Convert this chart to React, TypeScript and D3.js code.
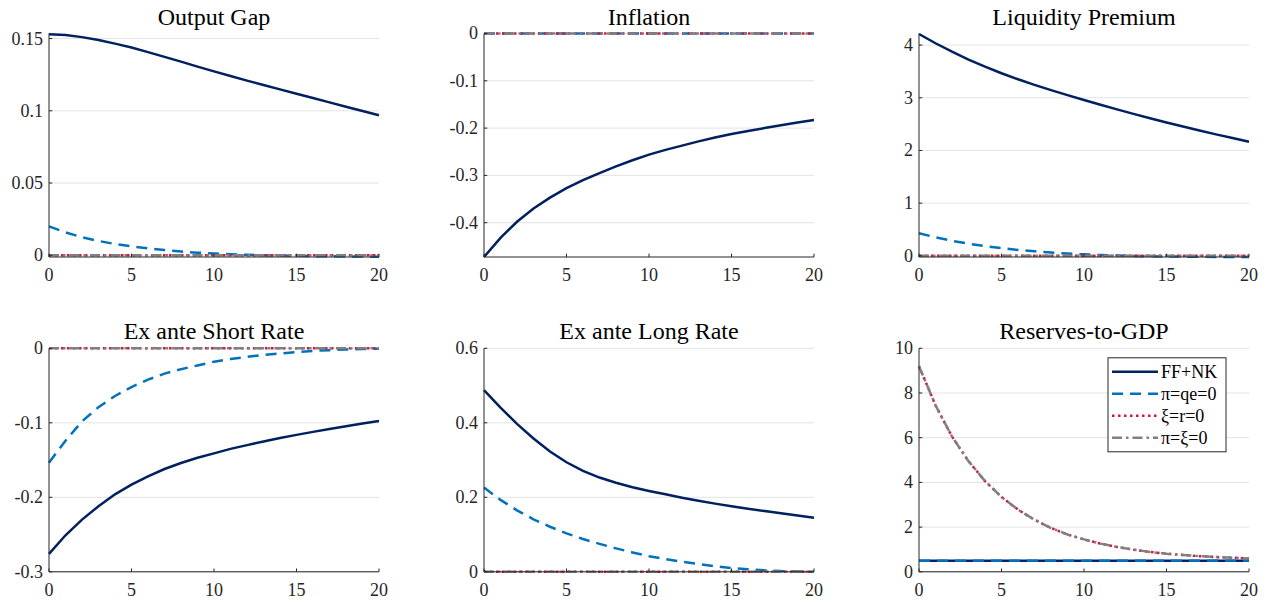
import React from 'react';
import * as d3 from 'd3';

const horizon = [0, 1, 2, 3, 4, 5, 6, 7, 8, 9, 10, 11, 12, 13, 14, 15, 16, 17, 18, 19, 20];

const seriesNames = ['FF+NK', 'π=qe=0', 'ξ=r=0', 'π=ξ=0'];
const zeros = horizon.map(() => 0);

// Output Gap
const outputGapFF = [0.153, 0.1525, 0.151, 0.149, 0.1465, 0.1438, 0.1406, 0.1373, 0.134, 0.1306, 0.1273, 0.1241, 0.1209, 0.1178, 0.1148, 0.1118, 0.1088, 0.1058, 0.1028, 0.0998, 0.0969];
const outputGapPiQe = [0.02, 0.0158, 0.0125, 0.0099, 0.0078, 0.0062, 0.0048, 0.0036, 0.0026, 0.0018, 0.0012, 0.0007, 0.0003, 0.0, -0.0002, -0.0004, -0.0006, -0.0007, -0.0008, -0.0009, -0.001];

// Inflation
const inflationFF = [-0.4725, -0.432, -0.398, -0.37, -0.347, -0.327, -0.31, -0.295, -0.281, -0.268, -0.256, -0.246, -0.237, -0.228, -0.22, -0.2125, -0.206, -0.2, -0.194, -0.188, -0.183];

// Liquidity Premium
const liquidityFF = [4.21, 4.035, 3.875, 3.725, 3.59, 3.465, 3.352, 3.246, 3.145, 3.05, 2.957, 2.867, 2.78, 2.695, 2.612, 2.532, 2.455, 2.38, 2.306, 2.235, 2.165];
const liquidityPiQe = [0.43, 0.35, 0.285, 0.23, 0.185, 0.146, 0.113, 0.085, 0.062, 0.043, 0.028, 0.016, 0.006, -0.002, -0.008, -0.012, -0.015, -0.018, -0.02, -0.021, -0.022];

// Ex ante Short Rate
const shortRateFF = [-0.276, -0.251, -0.23, -0.212, -0.196, -0.183, -0.172, -0.162, -0.154, -0.147, -0.141, -0.135, -0.13, -0.125, -0.1205, -0.1162, -0.1122, -0.1083, -0.1045, -0.101, -0.0975];
const shortRatePiQe = [-0.1535, -0.124, -0.098, -0.079, -0.064, -0.052, -0.042, -0.034, -0.028, -0.023, -0.018, -0.0145, -0.0115, -0.009, -0.007, -0.005, -0.0035, -0.0025, -0.0015, -0.001, -0.0005];

// Ex ante Long Rate
const longRateFF = [0.488, 0.441, 0.397, 0.358, 0.323, 0.294, 0.271, 0.253, 0.239, 0.227, 0.217, 0.208, 0.199, 0.191, 0.183, 0.176, 0.169, 0.163, 0.157, 0.151, 0.145];
const longRatePiQe = [0.226, 0.193, 0.165, 0.141, 0.121, 0.103, 0.088, 0.075, 0.063, 0.052, 0.042, 0.034, 0.027, 0.021, 0.015, 0.01, 0.007, 0.004, 0.002, 0.001, 0.0];

// Reserves-to-GDP
const reservesFF = [0.49, 0.49, 0.49, 0.49, 0.49, 0.49, 0.49, 0.49, 0.49, 0.49, 0.49, 0.49, 0.49, 0.49, 0.49, 0.49, 0.49, 0.49, 0.49, 0.49, 0.49];
const reservesPiQe = [0.49, 0.49, 0.49, 0.49, 0.49, 0.49, 0.49, 0.49, 0.49, 0.49, 0.49, 0.49, 0.49, 0.49, 0.49, 0.49, 0.49, 0.49, 0.49, 0.49, 0.49];
const reservesXiR = [9.2, 7.45, 6.05, 4.95, 4.06, 3.35, 2.78, 2.33, 1.96, 1.67, 1.45, 1.26, 1.11, 0.99, 0.89, 0.81, 0.75, 0.7, 0.66, 0.63, 0.6];
const reservesPiXi = [9.2, 7.45, 6.05, 4.95, 4.06, 3.35, 2.78, 2.33, 1.96, 1.67, 1.45, 1.26, 1.11, 0.99, 0.89, 0.81, 0.75, 0.7, 0.66, 0.63, 0.6];

const xTicks = [0, 5, 10, 15, 20];

const panels = [
  { title: 'Output Gap', series: [outputGapFF, outputGapPiQe, zeros, zeros], ylim: [-0.0012, 0.1535], yTicks: [0, 0.05, 0.1, 0.15] },
  { title: 'Inflation', series: [inflationFF, zeros, zeros, zeros], ylim: [-0.4725, 0], yTicks: [-0.4, -0.3, -0.2, -0.1, 0] },
  { title: 'Liquidity Premium', series: [liquidityFF, liquidityPiQe, zeros, zeros], ylim: [-0.022, 4.22], yTicks: [0, 1, 2, 3, 4] },
  { title: 'Ex ante Short Rate', series: [shortRateFF, shortRatePiQe, zeros, zeros], ylim: [-0.3, 0], yTicks: [-0.3, -0.2, -0.1, 0] },
  { title: 'Ex ante Long Rate', series: [longRateFF, longRatePiQe, zeros, zeros], ylim: [0, 0.6], yTicks: [0, 0.2, 0.4, 0.6] },
  { title: 'Reserves-to-GDP', series: [reservesFF, reservesPiQe, reservesXiR, reservesPiXi], ylim: [0, 10], yTicks: [0, 2, 4, 6, 8, 10], legend: true },
];

const lineStyles = [
  { color: '#00205f', dash: null },
  { color: '#0072bd', dash: '11,7' },
  { color: '#dc143c', dash: '2.5,3.5' },
  { color: '#808080', dash: '10,4,2.5,4' },
];

const W = 1267;
const H = 602;
const colX = [49, 484, 919];
const rowY = [33.5, 348.3];
const plotW = 330;
const plotH = 223.5;
const font = '"Liberation Serif", "Times New Roman", serif';
const axisColor = '#262626';

function Panel({ panel, x0, y0 }) {
  const x = d3.scaleLinear().domain([0, 20]).range([0, plotW]);
  const y = d3.scaleLinear().domain(panel.ylim).range([plotH, 0]);
  const line = d3.line<number>().x((d, i) => x(horizon[i])).y(d => y(d));

  return (
    <g transform={`translate(${x0},${y0})`}>
      {panel.yTicks.map(t => (
        <line key={'g' + t} x1={0} x2={plotW} y1={y(t)} y2={y(t)} stroke="#e3e3e3" strokeWidth={1} />
      ))}
      {panel.series.map((s, i) => (
        <path key={i} d={line(s)} fill="none" stroke={lineStyles[i].color} strokeWidth={2.5}
          strokeDasharray={lineStyles[i].dash || undefined} />
      ))}
      <line x1={0} x2={plotW} y1={plotH} y2={plotH} stroke={axisColor} strokeWidth={1} />
      <line x1={0} x2={0} y1={0} y2={plotH} stroke={axisColor} strokeWidth={1} />
      {xTicks.map(t => (
        <g key={'x' + t}>
          <line x1={x(t)} x2={x(t)} y1={plotH} y2={plotH - 3.3} stroke={axisColor} />
          <text x={x(t)} y={plotH + 24} textAnchor="middle" fontSize={18} fill={axisColor} fontFamily={font}>{t}</text>
        </g>
      ))}
      {panel.yTicks.map(t => (
        <g key={'y' + t}>
          <line x1={0} x2={3.3} y1={y(t)} y2={y(t)} stroke={axisColor} />
          <text x={-6} y={y(t)} dy="0.33em" textAnchor="end" fontSize={18} fill={axisColor} fontFamily={font}>{String(t)}</text>
        </g>
      ))}
      <text x={plotW / 2} y={-9} textAnchor="middle" fontSize={24} fill="#000" fontFamily={font}>{panel.title}</text>
      {panel.legend && (
        <g transform={`translate(${plotW - 141},9.5)`}>
          <rect x={0} y={0} width={118} height={94} fill="#fff" stroke={axisColor} strokeWidth={1} />
          {seriesNames.map((name, i) => (
            <g key={name} transform={`translate(0,${14 + i * 22})`}>
              <line x1={4} x2={50} y1={0} y2={0} stroke={lineStyles[i].color} strokeWidth={2.5}
                strokeDasharray={lineStyles[i].dash || undefined} />
              <text x={53} y={0} dy="0.33em" fontSize={18} fill="#000" fontFamily={font}>{name}</text>
            </g>
          ))}
        </g>
      )}
    </g>
  );
}

export default function App() {
  return (
    <svg width={W} height={H} style={{ position: 'absolute', left: 0, top: 0, background: '#fff' }}>
      {panels.map((p, i) => (
        <Panel key={p.title} panel={p} x0={colX[i % 3]} y0={rowY[Math.floor(i / 3)]} />
      ))}
    </svg>
  );
}
